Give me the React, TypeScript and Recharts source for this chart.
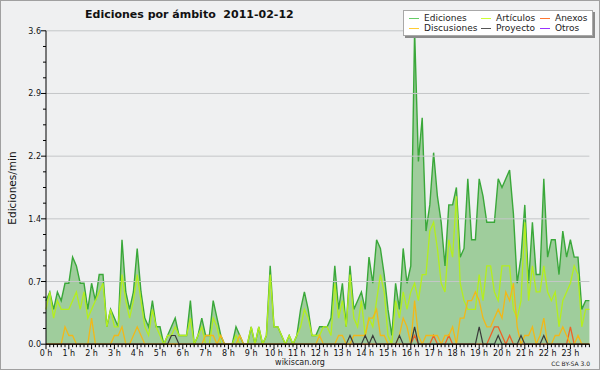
import React from 'react';
import { ComposedChart, Area, Line, XAxis, YAxis, ReferenceLine } from 'recharts';

// 144 points, one every 10 minutes (edits per minute)
const HOUR_LABELS = ['0 h','1 h','2 h','3 h','4 h','5 h','6 h','7 h','8 h','9 h','10 h','11 h','12 h','13 h','14 h','15 h','16 h','17 h','18 h','19 h','20 h','21 h','22 h','23 h'];

const EDICIONES = [
  0.5,0.6,0.4,0.6,0.5,0.7,0.7,1.0,0.9,0.7,
  0.7,0.4,0.7,0.5,0.8,0.8,0.2,0.4,0.3,0.2,
  1.2,0.6,0.4,0.6,1.1,0.6,0.3,0.2,0.5,0.2,
  0.2,0.0,0.1,0.2,0.3,0.1,0.1,0.1,0.5,0.0,
  0.1,0.3,0.1,0.1,0.5,0.3,0.1,0.0,0.0,0.0,
  0.2,0.1,0.0,0.0,0.2,0.0,0.2,0.0,0.1,0.9,
  0.2,0.2,0.1,0.0,0.1,0.0,0.1,0.4,0.6,0.4,
  0.1,0.1,0.2,0.2,0.2,0.3,0.9,0.4,0.7,0.2,
  0.9,0.4,0.5,0.6,0.4,1.0,0.7,1.2,1.1,0.8,
  0.4,0.1,0.7,0.4,1.1,0.7,0.9,3.6,2.1,2.6,
  1.3,1.6,2.2,1.7,1.4,0.9,1.6,1.6,1.8,1.0,
  1.1,1.9,1.2,1.2,1.9,1.7,1.4,1.4,1.4,1.9,
  1.8,1.9,2.0,1.5,0.7,1.0,1.6,0.7,1.4,0.8,
  0.8,1.9,1.0,1.2,1.2,0.8,1.3,1.0,1.2,1.0,
  1.0,0.4,0.5,0.5,
];

const ARTICULOS = [
  0.4,0.6,0.3,0.5,0.4,0.4,0.4,0.5,0.6,0.4,
  0.6,0.3,0.4,0.5,0.6,0.7,0.2,0.4,0.2,0.2,
  0.8,0.5,0.3,0.5,0.8,0.5,0.2,0.1,0.4,0.2,
  0.1,0.0,0.1,0.1,0.2,0.1,0.1,0.1,0.3,0.0,
  0.1,0.2,0.0,0.0,0.3,0.2,0.0,0.0,0.0,0.0,
  0.1,0.0,0.0,0.0,0.2,0.0,0.2,0.0,0.1,0.8,
  0.2,0.2,0.1,0.0,0.1,0.0,0.1,0.2,0.4,0.3,
  0.1,0.1,0.1,0.2,0.2,0.1,0.7,0.3,0.5,0.2,
  0.8,0.3,0.2,0.5,0.1,0.3,0.2,0.5,0.8,0.6,
  0.1,0.0,0.5,0.3,0.6,0.4,0.6,0.7,0.5,0.8,
  0.8,1.3,1.4,1.1,0.7,0.6,1.2,1.0,1.7,0.7,
  0.5,0.4,0.4,0.4,0.8,0.5,0.9,0.9,0.6,0.5,
  0.9,0.9,0.9,0.4,0.3,0.5,1.4,0.5,0.9,0.6,
  0.6,0.9,0.6,0.5,0.6,0.2,0.5,0.6,0.7,0.9,
  0.8,0.2,0.4,0.4,
];

const ANEXOS = [
  0,0,0,0,0,0,0,0,0,0,
  0,0,0,0,0,0,0,0,0,0,
  0,0,0,0,0,0,0,0,0,0,
  0,0,0,0,0,0,0,0,0,0,
  0,0,0,0,0,0,0,0,0,0,
  0,0,0,0,0,0,0,0,0,0,
  0,0,0,0,0,0,0,0,0,0,
  0,0,0,0,0,0,0,0,0,0,
  0,0,0,0,0,0,0,0,0,0,
  0,0,0,0,0,0,0,0.1,0,0,
  0,0,0.1,0,0,0,0.1,0,0,0,
  0,0,0,0,0,0,0,0.1,0.2,0.2,
  0.1,0,0.1,0,0,0,0,0,0,0,
  0,0,0,0,0,0,0,0,0.2,0,
  0,0,0,0,
];

const DISCUSIONES = [
  0,0,0,0,0,0.2,0.1,0.1,0,0,
  0,0,0.3,0,0,0,0,0,0.1,0.1,
  0.2,0,0,0.1,0.2,0.1,0,0,0,0,
  0,0,0,0,0,0,0,0,0,0,
  0,0,0.1,0.1,0.1,0,0.1,0,0,0,
  0,0.1,0,0,0,0,0,0,0,0,
  0,0,0,0,0,0,0,0,0,0,
  0,0,0.1,0,0,0,0,0.1,0.1,0,
  0,0.1,0.1,0.1,0.1,0.3,0.3,0.4,0.1,0.1,
  0,0,0,0.1,0.3,0.2,0,0.5,0.1,0,
  0.1,0.1,0.1,0.1,0,0.1,0.1,0.2,0,0.3,
  0.3,0.5,0.5,0.6,0.5,0.3,0.2,0.2,0.3,0.4,
  0.3,0.6,0.5,0.7,0.2,0,0.1,0.1,0.2,0,
  0.1,0.3,0,0,0.1,0.1,0.2,0.1,0,0,
  0.1,0,0,0,
];

const PROYECTO = [
  0,0,0,0,0,0,0,0,0,0,
  0,0,0,0,0,0,0,0,0,0,
  0,0,0,0,0,0,0,0,0,0,
  0,0,0,0.1,0.1,0,0,0,0,0,
  0,0,0,0,0,0,0,0,0,0,
  0,0,0,0,0,0,0,0,0,0,
  0,0,0,0,0,0,0,0,0,0,
  0,0,0,0,0,0,0,0,0,0,
  0.1,0,0,0,0.1,0,0.1,0,0,0,
  0,0,0,0.1,0,0,0,0.2,0,0,
  0,0,0,0,0,0,0,0,0,0,
  0,0,0,0,0.2,0,0,0,0,0.1,
  0,0,0,0,0,0.1,0,0,0,0,
  0,0.1,0,0,0,0,0,0,0,0,
  0,0,0,0,
];

const OTROS = [
  0,0,0,0,0,0,0,0,0,0, 0,0,0,0,0,0,0,0,0,0,
  0,0,0,0,0,0,0,0,0,0, 0,0,0,0,0,0,0,0,0,0,
  0,0,0,0,0,0,0,0,0,0, 0,0,0,0,0,0,0,0,0,0,
  0,0,0,0,0,0,0,0,0,0, 0,0,0,0,0,0,0,0,0,0,
  0,0,0,0,0,0,0,0,0,0, 0,0,0,0,0,0,0,0,0,0,
  0,0,0,0,0,0,0,0,0,0, 0,0,0,0,0,0,0,0,0,0,
  0,0,0,0,0,0,0,0,0,0, 0,0,0,0,0,0,0,0,0,0,
  0,0,0,0,
];

const Y_TICKS = [0, 0.72, 1.44, 2.16, 2.88, 3.6];
const Y_LABELS = ['0.0', '0.7', '1.4', '2.2', '2.9', '3.6'];

const SERIES = [
  { key: 'ediciones', name: 'Ediciones', color: '#66cc66' },
  { key: 'articulos', name: 'Artículos', color: '#ccff33' },
  { key: 'anexos', name: 'Anexos', color: '#ff7733' },
  { key: 'discusiones', name: 'Discusiones', color: '#ffcc33' },
  { key: 'proyecto', name: 'Proyecto', color: '#555555' },
  { key: 'otros', name: 'Otros', color: '#9933ff' },
];

const data = EDICIONES.map((v, i) => ({
  i,
  ediciones: v,
  articulos: ARTICULOS[i],
  anexos: ANEXOS[i],
  discusiones: DISCUSIONES[i],
  proyecto: PROYECTO[i],
  otros: OTROS[i],
}));

const xTicks = data.map((d) => d.i);
const yTicks: number[] = [];
for (let k = 0; k < Y_TICKS.length - 1; k++) {
  const a = Y_TICKS[k];
  const b = Y_TICKS[k + 1];
  for (let q = 0; q < 4; q++) yTicks.push(a + ((b - a) * q) / 4);
}
yTicks.push(Y_TICKS[Y_TICKS.length - 1]);

const FONT = '"DejaVu Sans", Verdana, sans-serif';

const XTick = (props: any) => {
  const { x, y, payload } = props;
  const v = payload.value as number;
  const major = v % 6 === 0;
  return (
    <g>
      <line x1={x} x2={x} y1={y} y2={y + (major ? 5 : 3)} stroke="#000" strokeWidth={1} />
      {major && (
        <text x={x} y={y + 11.5} textAnchor="middle" fontSize={8} fontFamily={FONT} fill="#111">
          {HOUR_LABELS[v / 6]}
        </text>
      )}
    </g>
  );
};

const YTick = (props: any) => {
  const { x, y, payload } = props;
  const v = payload.value as number;
  const idx = Y_TICKS.findIndex((t) => Math.abs(t - v) < 1e-6);
  const major = idx >= 0;
  return (
    <g>
      <line x1={x - (major ? 5 : 3)} x2={x} y1={y} y2={y} stroke="#000" strokeWidth={1} />
      {major && (
        <text x={x - 5} y={y + 3} textAnchor="end" fontSize={8} fontFamily={FONT} fill="#111">
          {Y_LABELS[idx]}
        </text>
      )}
    </g>
  );
};

const legendPos = [
  { col: 0, row: 0 }, { col: 1, row: 0 }, { col: 2, row: 0 },
  { col: 0, row: 1 }, { col: 1, row: 1 }, { col: 2, row: 1 },
];
const colX = [5, 77, 136];

export default function App() {
  const bg = '#eff0f1';
  return (
    <div style={{ position: 'absolute', left: 0, top: 0, width: 600, height: 370, background: bg, fontFamily: FONT }}>
      <ComposedChart
        width={600}
        height={370}
        data={data}
        margin={{ top: 30.8, right: 10.6, bottom: 0, left: 0 }}
      >
        <Area
          type="linear"
          dataKey="ediciones"
          stroke="#3aa83a"
          strokeWidth={1.4}
          fill="#9fcd9c"
          fillOpacity={1}
          dot={false}
          isAnimationActive={false}
        />
        {Y_TICKS.slice(1).map((t) => (
          <ReferenceLine key={t} y={t} stroke="#c4c6c8" strokeWidth={1} />
        ))}
        <Line type="linear" dataKey="articulos" stroke="#b4ee1e" strokeWidth={1.3} dot={false} isAnimationActive={false} />
        <Line type="linear" dataKey="anexos" stroke="#ee6226" strokeWidth={1.3} dot={false} isAnimationActive={false} />
        <Line type="linear" dataKey="discusiones" stroke="#f2b818" strokeWidth={1.3} dot={false} isAnimationActive={false} />
        <Line type="linear" dataKey="proyecto" stroke="#3a3a3a" strokeWidth={1.2} dot={false} isAnimationActive={false} />
        <Line type="linear" dataKey="otros" stroke="#9933ff" strokeWidth={1} strokeOpacity={0} dot={false} isAnimationActive={false} />
        <XAxis
          type="number"
          dataKey="i"
          domain={[0, 143]}
          ticks={xTicks}
          interval={0}
          height={25.8}
          tickSize={0}
          tickMargin={0}
          tick={XTick}
          tickLine={false}
          axisLine={{ stroke: '#000' }}
          allowDecimals={false}
        />
        <YAxis
          type="number"
          domain={[0, 3.6]}
          ticks={yTicks}
          interval={0}
          width={46}
          tickSize={0}
          tickMargin={0}
          tick={YTick}
          tickLine={false}
          axisLine={{ stroke: '#000' }}
        />
      </ComposedChart>

      {/* Title */}
      <div style={{ position: 'absolute', left: 85, top: 8, fontSize: 11, fontWeight: 'bold', color: '#111', whiteSpace: 'pre', lineHeight: '14px' }}>
        {'Ediciones por ámbito  2011-02-12'}
      </div>

      {/* Y axis label */}
      <div
        style={{
          position: 'absolute', left: 12, top: 188, fontSize: 10.5, color: '#111', whiteSpace: 'nowrap',
          transform: 'translate(-50%, -50%) rotate(-90deg)', lineHeight: '12px',
        }}
      >
        Ediciones/min
      </div>

      {/* Footer */}
      <div style={{ position: 'absolute', left: 300, top: 358, fontSize: 8, color: '#222', transform: 'translateX(-50%)', lineHeight: '10px' }}>
        wikiscan.org
      </div>
      <div style={{ position: 'absolute', right: 10, top: 360, fontSize: 6, color: '#222', lineHeight: '8px', whiteSpace: 'nowrap' }}>
        CC BY-SA 3.0
      </div>

      {/* Legend */}
      <div
        style={{
          position: 'absolute', left: 403, top: 10, width: 190, height: 26, background: '#ffffff',
          border: '1px solid #a8a8a8', boxShadow: '2px 2px 0 #8a8a8a', boxSizing: 'border-box',
        }}
      >
        {SERIES.map((s, k) => (
          <div
            key={s.key}
            style={{
              position: 'absolute', left: colX[legendPos[k].col], top: 2 + legendPos[k].row * 10,
              height: 10, display: 'flex', alignItems: 'center', fontSize: 9, color: '#222', whiteSpace: 'nowrap',
            }}
          >
            <span style={{ display: 'inline-block', width: 10, height: 1, background: s.color, marginRight: 5 }} />
            <span>{s.name}</span>
          </div>
        ))}
      </div>

      {/* Outer frame */}
      <div style={{ position: 'absolute', left: 0, top: 0, width: 600, height: 370, border: '1px solid #a0a0a0', boxSizing: 'border-box', pointerEvents: 'none' }} />
    </div>
  );
}
